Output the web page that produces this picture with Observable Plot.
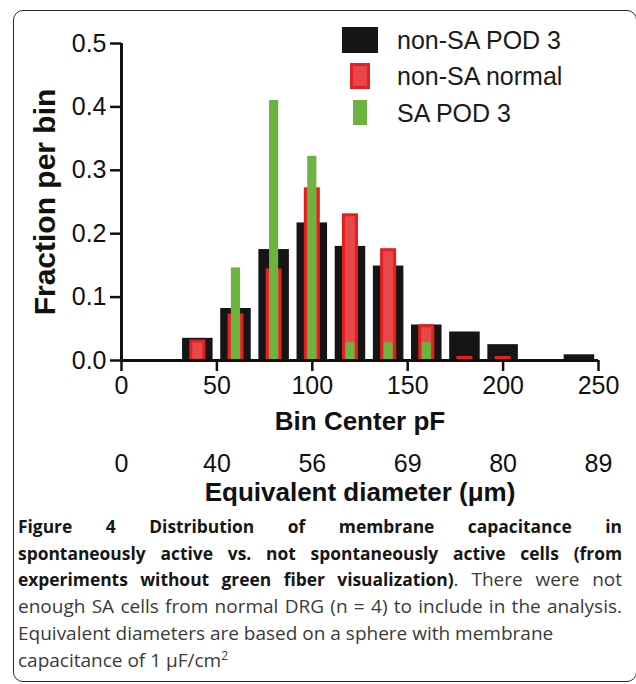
<!DOCTYPE html>
<html>
<head>
<meta charset="utf-8">
<script src="https://cdn.jsdelivr.net/npm/d3@7"></script>
<script src="https://cdn.jsdelivr.net/npm/@observablehq/plot@0.6"></script>
<style>
  body { margin: 0; background: #fff; }
  #wrap { position: relative; width: 636px; height: 684px; overflow: hidden; font-family: "Liberation Sans", Arial, sans-serif; }
  #frame { position: absolute; left: 13px; top: 10px; width: 624px; height: 672px; border: 1.5px solid #2a2a2a; border-radius: 10px; box-sizing: border-box; }
  #chart { position: absolute; left: 0; top: 0; }
  .sw { position: absolute; box-sizing: border-box; }
  .lt { position: absolute; font-size: 25px; color: #1a1a1a; line-height: 26px; white-space: nowrap; }
  #caption { position: absolute; left: 18px; top: 513px; width: 604px; font-family: "Open Sans", sans-serif; font-size: 19px; line-height: 26.7px; color: #3a3a3a; }
  #caption div { white-space: nowrap; text-align: justify; text-align-last: justify; }
  #caption div.l { text-align: left; text-align-last: left; }
  #caption b { color: #161616; font-weight: 700; font-size: 17.4px; }
</style>
</head>
<body>
<div id="wrap">
  <div id="frame"></div>
  <div id="chart"></div>
  <div id="legend"></div>
  <div id="caption">
    <div><b>Figure 4 Distribution of membrane capacitance in</b></div>
    <div><b>spontaneously active vs. not spontaneously active cells (from</b></div>
    <div><b>experiments without green fiber visualization)</b>. There were not</div>
    <div>enough SA cells from normal DRG (n = 4) to include in the analysis.</div>
    <div class="l">Equivalent diameters are based on a sphere with membrane</div>
    <div class="l">capacitance of 1 μF/cm<sup style="font-size:12px;line-height:0">2</sup></div>
  </div>
</div>
<script>
// ---- data ----
const binCenters   = [40, 60, 80, 100, 120, 140, 160, 180, 200, 220, 240];
const nonSAPOD3    = [0.035, 0.082, 0.175, 0.217, 0.180, 0.149, 0.056, 0.045, 0.025, 0, 0.009];
const nonSANormal  = [0.030, 0.071, 0.142, 0.270, 0.229, 0.174, 0.054, 0.004, 0.004, 0, 0];
const saPOD3       = [0, 0.146, 0.410, 0.322, 0.028, 0.028, 0.028, 0, 0, 0, 0];
const seriesNames  = ["non-SA POD 3", "non-SA normal", "SA POD 3"];
const xTicks       = [0, 50, 100, 150, 200, 250];
const diameterLabels = ["0", "40", "56", "69", "80", "89"];
const yTicks       = [0, 0.1, 0.2, 0.3, 0.4, 0.5];

const BLACK = "#151515", RED_IN = "#e8474c", RED_OUT = "#e3201f", GREEN = "#6cb33f";

const rows = binCenters.map((c, i) => ({c, black: nonSAPOD3[i], red: nonSANormal[i], green: saPOD3[i]}));
const font = "Liberation Sans, Arial, sans-serif";

const chart = Plot.plot({
  width: 636, height: 510,
  marginLeft: 121, marginRight: 38, marginTop: 43, marginBottom: 150,
  x: {domain: [0, 250]},
  y: {domain: [0, 0.5]},
  style: {fontFamily: font, background: "transparent", overflow: "visible", color: "#111"},
  marks: [
    Plot.rectY(rows.filter(d => d.black > 0), {x1: d => d.c - 8, x2: d => d.c + 8, y1: 0, y2: "black", fill: BLACK}),
    Plot.rectY(rows.filter(d => d.red > 0), {x1: d => d.c - 4.2, x2: d => d.c + 4.2, y1: 0, y2: "red", fill: RED_IN, stroke: RED_OUT, strokeWidth: 3, insetLeft: 1.5, insetRight: 1.5}),
    Plot.rectY(rows.filter(d => d.green > 0), {x1: d => d.c - 2.4, x2: d => d.c + 2.4, y1: 0, y2: "green", fill: GREEN}),
    Plot.axisY(yTicks, {tickFormat: d3.format(".1f"), tickSize: 11, tickPadding: 4, fontSize: 25, strokeWidth: 2.5, label: null}),
    Plot.axisX(xTicks, {tickSize: 11, tickPadding: 5, fontSize: 25, strokeWidth: 2.5, label: null}),
    Plot.ruleY([0], {x1: 0, x2: 250, strokeWidth: 3, stroke: "#111"}),
    Plot.ruleX([0], {y1: 0, y2: 0.5, strokeWidth: 3, stroke: "#111"}),
    Plot.text(xTicks, {x: d => d, text: (d, i) => diameterLabels[i], frameAnchor: "bottom", dy: 111, fontSize: 25, fill: "#111"}),
    Plot.text(["Bin Center pF"], {text: d => d, frameAnchor: "bottom", dy: 69, fontSize: 26, fontWeight: "bold", fill: "#111"}),
    Plot.text(["Equivalent diameter (μm)"], {text: d => d, frameAnchor: "bottom", dy: 140, fontSize: 26, fontWeight: "bold", fill: "#111"}),
    Plot.text(["Fraction per bin"], {text: d => d, frameAnchor: "left", textAnchor: "middle", dx: -76, rotate: -90, fontSize: 30, fontWeight: "bold", fill: "#111"})
  ]
});
document.getElementById("chart").appendChild(chart);

// legend
const swatches = [
  {left: 342, top: 27, w: 36, h: 26, css: `background:${BLACK};`},
  {left: 350, top: 63, w: 20, h: 26, css: `background:${RED_IN};border:3px solid ${RED_OUT};`},
  {left: 353, top: 100, w: 14, h: 25, css: `background:${GREEN};`}
];
const leg = document.getElementById("legend");
seriesNames.forEach((name, i) => {
  const s = swatches[i];
  const sw = document.createElement("div");
  sw.className = "sw";
  sw.style.cssText = `left:${s.left}px;top:${s.top}px;width:${s.w}px;height:${s.h}px;` + s.css;
  leg.appendChild(sw);
  const t = document.createElement("div");
  t.className = "lt";
  t.style.left = "397px";
  t.style.top = (s.top + s.h / 2 - 13) + "px";
  t.textContent = name;
  leg.appendChild(t);
});
</script>
</body>
</html>
